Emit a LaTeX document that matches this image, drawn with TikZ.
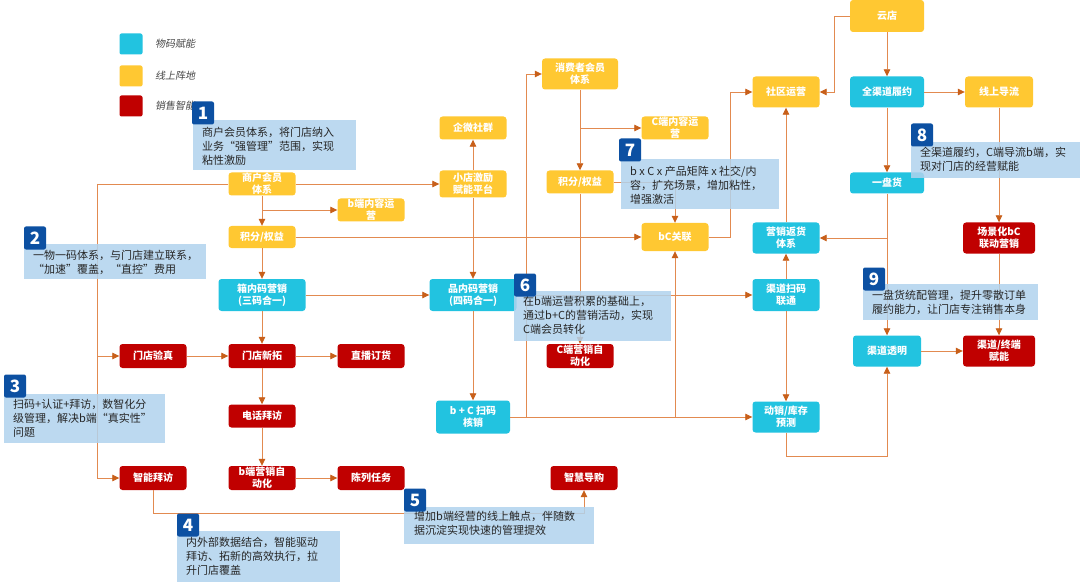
\documentclass[tikz,border=0pt]{standalone}
\usepackage{fontspec}
\setmainfont{Noto Sans CJK SC}
\newfontfamily\legfont[FakeSlant=0.2]{Noto Sans CJK SC}
\usetikzlibrary{arrows.meta}
\definecolor{cy}{RGB}{34,195,224}
\definecolor{ye}{RGB}{255,200,50}
\definecolor{rd}{RGB}{192,0,0}
\definecolor{cb}{RGB}{177,211,238}
\definecolor{bd}{RGB}{12,80,162}
\definecolor{ln}{RGB}{226,138,80}
\definecolor{ah}{RGB}{200,95,25}
\definecolor{lg}{RGB}{70,70,70}
\begin{document}
\begin{tikzpicture}[x=1pt,y=-1pt,
 box/.style={rounded corners=3pt, inner sep=0pt, text=white, font=\fontsize{10}{12}\selectfont\bfseries, align=center, minimum width=67pt, minimum height=23pt},
 cyb/.style={box, fill=cy}, yeb/.style={box, fill=ye}, rdb/.style={box, fill=rd},
 conn/.style={draw=ln, line width=0.8pt, -{Triangle[length=7pt,width=6.5pt,fill=ah,color=ah]}},
 cbox/.style={fill=cb, fill opacity=0.85, inner sep=0pt, anchor=north west},
 ctext/.style={inner sep=0pt, anchor=north west, align=left, text=black!85, font=\fontsize{11}{14}\selectfont},
 badge/.style={fill=bd, rounded corners=2pt, minimum width=22pt, minimum height=23pt, inner sep=0pt, text=white, font=\fontsize{17}{17}\selectfont\bfseries},
 legsq/.style={rounded corners=2pt, minimum width=23pt, minimum height=21pt, inner sep=0pt},
 legtx/.style={anchor=west, inner sep=0pt, text=lg, font=\fontsize{10}{12}\selectfont\legfont}
]
\useasboundingbox (0,0) rectangle (1080,583);
\fill[white] (0,0) rectangle (1080,583);

% legend
\node[legsq, fill=cy] (lg1) at (131,44) {};
\node[legsq, fill=ye] (lg2) at (131,76) {};
\node[legsq, fill=rd] (lg3) at (131,106) {};
\node[legtx] (lt1) at (155,44) {物码赋能};
\node[legtx] (lt2) at (155,76) {线上阵地};
\node[legtx] (lt3) at (155,106) {销售智能};

% nodes left
\node[yeb] (shhy) at (262,184) {商户会员\\体系};
\node[yeb] (bnr) at (371,210) {b端内容运\\营};
\node[yeb, minimum height=22pt] (jf1) at (262,237) {积分/权益};
\node[cyb, minimum width=87pt, minimum height=32pt] (xnm) at (262,295) {箱内码营销\\(三码合一)};
\node[rdb, minimum height=24pt] (mdyz) at (153,356) {门店验真};
\node[rdb, minimum height=24pt] (mdxt) at (262,356) {门店新拓};
\node[rdb, minimum height=24pt] (zbdh) at (371,356) {直播订货};
\node[rdb] (dhbf) at (262,416) {电话拜访};
\node[rdb, minimum height=24pt] (znbf) at (153,478) {智能拜访};
\node[rdb, minimum height=24pt] (byx) at (262,478) {b端营销自\\动化};
\node[rdb, minimum height=24pt] (cllw) at (371,478) {陈列任务};
% middle
\node[yeb] (qwsq) at (473,128) {企微社群};
\node[yeb, minimum height=27pt] (xdjl) at (473,184) {小店激励\\赋能平台};
\node[yeb, minimum width=76pt, minimum height=31pt] (xfz) at (580,74) {消费者会员\\体系};
\node[yeb] (cnr) at (675,128) {C端内容运\\营};
\node[yeb] (jf2) at (580,182) {积分/权益};
\node[yeb, minimum height=28pt] (bcgl) at (675,237) {bC关联};
\node[cyb, minimum width=87pt, minimum height=32pt] (pnm) at (473,295) {品内码营销\\(四码合一)};
\node[cyb, minimum width=74pt, minimum height=33pt] (bcsm) at (473,417) {b + C 扫码\\核销};
\node[rdb, minimum height=24pt] (cyx) at (580,356) {C端营销自\\动化};
\node[rdb, minimum height=24pt] (zhdg) at (584,478) {智慧导购};
% right
\node[yeb, minimum width=74pt, minimum height=32pt] (yd) at (887,16) {云店};
\node[yeb, minimum height=31pt] (sqyy) at (786,92) {社区运营};
\node[cyb, minimum width=74pt, minimum height=31pt] (qqd) at (887,92) {全渠道履约};
\node[yeb, minimum width=68pt, minimum height=31pt] (xsdl) at (999,92) {线上导流};
\node[cyb, minimum width=74pt, minimum height=21pt] (ypd) at (887,183) {一盘货};
\node[cyb, minimum height=31pt] (yxfh) at (786,238) {营销返货\\体系};
\node[rdb, minimum width=72pt, minimum height=31pt] (cjh) at (999,238) {场景化bC\\联动营销};
\node[cyb, minimum height=32pt] (qdsm) at (786,295) {渠道扫码\\联通};
\node[cyb, minimum width=68pt, minimum height=31pt] (qdtm) at (887,351) {渠道透明};
\node[rdb, minimum width=72pt, minimum height=31pt] (qdzd) at (999,351) {渠道/终端\\赋能};
\node[cyb, minimum height=31pt] (dxkc) at (786,417) {动销/库存\\预测};

% connectors
\coordinate (L) at (97,184);
\draw[conn] (shhy.south) -- (jf1.north);
\draw[conn] (shhy.south |- bnr.west) -- (bnr.west);
\draw[conn] (shhy.west) -- (L) |- (mdyz.west);
\draw[conn] (L) |- (znbf.west);
\draw[conn] (shhy.east) -- (xdjl.west);
\draw[conn] (jf1.east) -- (jf1.east -| bcgl.west);
\draw[conn] (jf1.south) -- (xnm.north);
\draw[conn] (xnm.east) -- (pnm.west);
\draw[conn] (xnm.south) -- (mdxt.north);
\draw[conn] (mdyz.east) -- (mdxt.west);
\draw[conn] (mdxt.east) -- (zbdh.west);
\draw[conn] (mdxt.south) -- (dhbf.north);
\draw[conn] (dhbf.south) -- (byx.north);
\draw[conn] (byx.east) -- (cllw.west);
\draw[conn] (znbf.south) -- ++(0,23) -| (zhdg.south);
\draw[conn] (xdjl.north) -- (qwsq.south);
\draw[conn] (xdjl.south) -- (pnm.north);
\draw[conn] (pnm.south) -- (bcsm.north);
\draw[conn] (pnm.east) -- (qdsm.west);
\draw[conn] (bcsm.east) -- (dxkc.west);
\draw[conn] (bcsm.east) -- ++(16,0) |- (xfz.west);
\draw[conn] (bcsm.east -| bcgl.south) -- (bcgl.south);
\draw[conn] (xfz.south) -- (jf2.north);
\draw[conn] (xfz.south |- cnr.west) -- (cnr.west);
\draw[conn] (jf2.south) -- (cyx.north);
\draw[conn] (jf2.east) -| (bcgl.north);
\draw[conn] (bcgl.east) -- ++(22,0) |- (sqyy.west);
\draw[conn] (yd.west) -- ++(-15,0) |- (sqyy.east);
\draw[conn] (yd.south) -- (qqd.north);
\draw[conn] (qqd.east) -- (xsdl.west);
\draw[conn] (qqd.south) -- (ypd.north);
\draw[conn] (ypd.south) -- (qdtm.north);
\draw[conn] (ypd.south |- yxfh.east) -- (yxfh.east);
\draw[conn] (xsdl.south) -- (cjh.north);
\draw[conn] (cjh.south) -- (qdzd.north);
\draw[conn] (qdtm.east) -- (qdzd.west);
\draw[conn] (qdsm.north) -- (yxfh.south);
\draw[conn] (yxfh.north) -- (sqyy.south);
\draw[conn] (qdsm.south) -- (dxkc.north);
\draw[conn] (dxkc.south) -- ++(0,24) -| (qdtm.south);

% callouts
\node[cbox, minimum width=163pt, minimum height=50pt] (k1) at (193,120) {};
\node[ctext] (t1) at (202,127) {商户会员体系，将门店纳入\\业务“强管理”范围，实现\\粘性激励};
\node[badge] (b1) at (203,113) {1};

\node[cbox, minimum width=182pt, minimum height=35pt] (k2) at (24,244) {};
\node[ctext] (t2) at (33,250) {一物一码体系，与门店建立联系，\\“加速”覆盖，“直控”费用};
\node[badge] (b2) at (35,238) {2};

\node[cbox, minimum width=161pt, minimum height=49pt] (k3) at (4,394) {};
\node[ctext] (t3) at (13,399) {扫码+认证+拜访，数智化分\\级管理，解决b端“真实性”\\问题};
\node[badge] (b3) at (15,386) {3};

\node[cbox, minimum width=163pt, minimum height=51pt] (k4) at (177,531) {};
\node[ctext] (t4) at (186,537) {内外部数据结合，智能驱动\\拜访、拓新的高效执行，拉\\升门店覆盖};
\node[badge] (b4) at (188,525) {4};

\node[cbox, minimum width=190pt, minimum height=37pt] (k5) at (404,507) {};
\node[ctext] (t5) at (414,511) {增加b端经营的线上触点，伴随数\\据沉淀实现快速的管理提效};
\node[badge] (b5) at (415,500) {5};

\node[cbox, minimum width=157pt, minimum height=50pt] (k6) at (514,291) {};
\node[ctext] (t6) at (523,296) {在b端运营积累的基础上，\\通过b+C的营销活动，实现\\C端会员转化};
\node[badge] (b6) at (525,285) {6};

\node[cbox, minimum width=158pt, minimum height=50pt] (k7) at (621,159) {};
\node[ctext] (t7) at (630,166) {b x C x 产品矩阵 x 社交/内\\容，扩充场景，增加粘性，\\增强激活};
\node[badge] (b7) at (630,150) {7};

\node[cbox, minimum width=169pt, minimum height=36pt] (k8) at (911,142) {};
\node[ctext] (t8) at (920,147) {全渠道履约，C端导流b端，实\\现对门店的经营赋能};
\node[badge] (b8) at (922,135) {8};

\node[cbox, minimum width=175pt, minimum height=36pt] (k9) at (863,284) {};
\node[ctext] (t9) at (872,290) {一盘货统配管理，提升零散订单\\履约能力，让门店专注销售本身};
\node[badge] (b9) at (874,279) {9};
\end{tikzpicture}
\end{document}
